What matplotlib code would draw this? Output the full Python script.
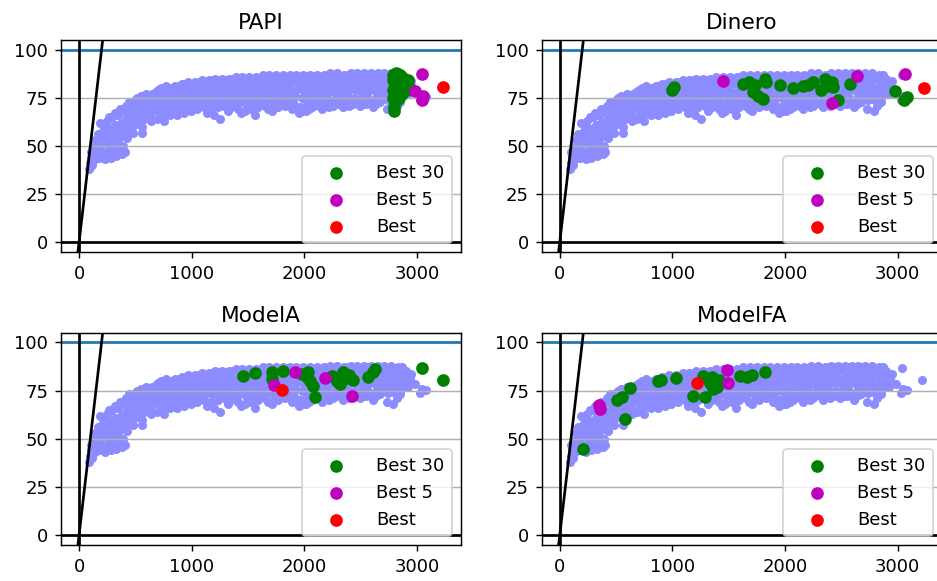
import matplotlib
matplotlib.use("Agg")
import matplotlib.pyplot as plt

# all runs (same background cloud in every panel)
cloud_x = [
    92, 100, 108, 118, 104, 126,
    138, 148, 158, 144, 166, 154, 170,
    180, 190, 200, 210, 220, 186, 204, 214,
    230, 240, 250, 260, 270, 246, 266, 236,
    280, 290, 300, 310, 320, 296, 316, 286,
    330, 340, 350, 360, 370, 346, 366, 336, 356,
    380, 390, 400, 410, 420, 396, 416, 386, 406,
    430, 440, 450, 460, 470, 446, 466, 436,
    480, 490, 500, 510, 520, 496, 516, 486, 506,
    530, 540, 550, 560, 570, 546, 566, 560, 562,
    580, 590, 600, 610, 620, 596, 616,
    630, 645, 660, 670, 680, 650, 675, 640,
    690, 700, 715, 725, 740, 705, 730, 720,
    750, 760, 775, 785, 800, 765, 790, 770,
    810, 820, 835, 845, 860, 825, 850, 840,
    870, 880, 895, 905, 920, 885, 910, 900,
    930, 940, 955, 965, 980, 945, 970, 960,
    990, 1000, 1015, 1025, 1040, 1005, 1030, 1020,
    1050, 1060, 1075, 1085, 1100, 1065, 1090, 1080,
    1110, 1120, 1135, 1145, 1160, 1125, 1150, 1140,
    1170, 1180, 1195, 1205, 1220, 1185, 1210, 1200,
    1230, 1240, 1255, 1265, 1280, 1245, 1270, 1250,
    1290, 1300, 1315, 1325, 1340, 1305, 1330, 1320,
    1350, 1360, 1375, 1385, 1400, 1365, 1390, 1380,
    1410, 1420, 1435, 1445, 1460, 1425, 1450, 1440,
    1470, 1480, 1495, 1505, 1520, 1485, 1510, 1500,
    1530, 1540, 1555, 1565, 1580, 1545, 1570, 1560,
    1590, 1600, 1615, 1625, 1640, 1605, 1630, 1620,
    1650, 1660, 1675, 1685, 1700, 1665, 1690, 1680,
    1710, 1720, 1735, 1745, 1760, 1725, 1750, 1740,
    1770, 1780, 1795, 1805, 1820, 1785, 1810, 1800,
    1830, 1840, 1855, 1865, 1880, 1845, 1870, 1860,
    1890, 1900, 1915, 1925, 1940, 1905, 1930, 1920,
    1950, 1960, 1975, 1985, 2000, 1965, 1990, 1980,
    2010, 2020, 2035, 2045, 2060, 2025, 2050, 2040,
    2070, 2080, 2095, 2105, 2120, 2085, 2110, 2100,
    2130, 2140, 2155, 2165, 2180, 2145, 2170, 2160,
    2190, 2200, 2215, 2225, 2240, 2205, 2230, 2220,
    2250, 2260, 2275, 2285, 2300, 2265, 2290, 2280,
    2310, 2320, 2335, 2345, 2360, 2325, 2350, 2340,
    2370, 2380, 2395, 2405, 2420, 2385, 2410, 2400,
    2430, 2440, 2455, 2465, 2480, 2445, 2470, 2460,
    2490, 2500, 2515, 2525, 2540, 2505, 2530, 2520,
    2550, 2560, 2575, 2585, 2600, 2565, 2590, 2580,
    2610, 2620, 2635, 2645, 2660, 2625, 2650, 2640,
    2670, 2680, 2695, 2705, 2720, 2685, 2710, 2700,
    2730, 2740, 2755, 2765, 2780, 2745, 2770, 2760,
    2790, 2800, 2815, 2825, 2840, 2805, 2830, 2820,
    2850, 2860, 2875, 2885, 2900, 2865, 2890,
    2920, 2950, 3040, 3045, 3030, 3212, 2935, 2980, 3080,
]
cloud_y = [
    38, 41, 44, 40, 47, 49,
    43, 46, 49, 53, 56, 45, 51,
    44, 48, 52, 56, 60, 62, 46, 58,
    43, 47, 51, 55, 59, 63, 65, 53,
    44, 48, 52, 57, 61, 65, 67, 55,
    45, 49, 54, 58, 62, 66, 69, 60, 51,
    46, 50, 55, 60, 64, 68, 71, 62, 47,
    54, 58, 62, 66, 70, 73, 68, 64,
    57, 61, 65, 68, 71, 74, 75, 63, 70,
    62, 66, 69, 72, 75, 76, 73, 57, 60,
    64, 67, 70, 73, 76, 77, 75,
    66, 69, 72, 75, 78, 77, 70, 63,
    64, 68, 71, 74, 77, 79, 80, 66,
    63, 67, 70, 73, 76, 78, 80, 81,
    66, 69, 72, 75, 78, 80, 81, 77,
    66, 70, 73, 76, 79, 81, 82, 68,
    67, 70, 74, 77, 80, 82, 83, 72,
    68, 71, 74, 77, 80, 82, 83, 79,
    69, 72, 75, 78, 81, 83, 84, 76,
    70, 73, 76, 79, 82, 83, 84, 67,
    69, 73, 76, 79, 82, 84, 85, 66,
    70, 74, 77, 80, 83, 84, 85, 64,
    71, 74, 77, 80, 82, 84, 85, 68,
    70, 74, 77, 80, 83, 85, 86, 72,
    69, 73, 76, 79, 82, 84, 86, 67,
    68, 72, 76, 79, 82, 84, 86, 74,
    69, 71, 75, 78, 81, 84, 86, 66,
    70, 73, 76, 79, 82, 85, 87, 72,
    71, 74, 77, 80, 83, 85, 87, 69,
    68, 73, 76, 79, 82, 85, 87, 71,
    70, 74, 77, 80, 83, 85, 87, 72,
    71, 74, 77, 80, 83, 85, 87, 73,
    69, 73, 76, 79, 82, 85, 87, 71,
    67, 70, 75, 79, 82, 85, 87, 68,
    68, 72, 76, 80, 83, 85, 87, 69,
    70, 74, 77, 80, 83, 86, 87, 72,
    71, 75, 78, 81, 84, 86, 87, 69,
    72, 75, 78, 81, 84, 86, 88, 70,
    71, 74, 78, 81, 84, 86, 88, 73,
    72, 75, 79, 82, 84, 86, 87, 70,
    73, 76, 79, 82, 85, 87, 88, 71,
    72, 75, 79, 82, 85, 87, 88, 74,
    71, 75, 78, 81, 84, 86, 88, 72,
    72, 76, 79, 82, 85, 87, 88, 73,
    70, 74, 78, 81, 84, 86, 88, 72,
    73, 76, 79, 82, 85, 87, 88, 75,
    69, 74, 78, 81, 84, 86, 88, 76,
    68, 74, 77, 80, 83, 86, 87, 71,
    73, 76, 79, 82, 85, 87, 80,
    77, 83.5, 86.7, 76, 74, 80.5, 81, 78.5, 75.3,
]

titles = ["PAPI", "Dinero", "ModelA", "ModelFA"]

# best 30 per model
papi_b30_x = [2790, 2810, 2830, 2850, 2870, 2890, 2910, 2785, 2800, 2820, 2840, 2860, 2880,
              2900, 2790, 2805, 2825, 2845, 2865, 2785, 2800, 2820, 2840, 2795, 2798, 2920, 2935]
papi_b30_y = [87, 88, 87.5, 87, 86, 84, 82, 84, 82, 84, 83, 82, 80,
              79, 79, 77, 79, 78, 77, 75, 73, 74, 75, 70, 68.3, 84, 80]
dinero_b30_x = [1000, 1015, 1625, 1684, 1729, 1714, 1759, 1803, 1818, 1833, 1952, 2071, 2160,
                2204, 2249, 2353, 2323, 2368, 2412, 2427, 2472, 2576, 2977, 3051, 3081]
dinero_b30_y = [79, 80.5, 82.3, 83.1, 81.4, 77.9, 76.2, 74.4, 84.9, 83.1, 81.4, 80.2, 80.9,
                81.4, 83.1, 84.9, 78.8, 80.9, 83.1, 80.5, 73.9, 82.3, 78.4, 73.9, 75.3]
modela_b30_x = [1459, 1562, 1710, 1710, 1814, 1976, 2021, 2050, 2080, 2095, 2243, 2287, 2317,
                2346, 2391, 2435, 2568, 2612, 2627, 3041, 3228, 2030, 2400]
modela_b30_y = [82.7, 83.9, 84.4, 81.0, 85.3, 83.6, 82.2, 80.1, 77.5, 71.5, 82.7, 80.1, 78.4,
                84.8, 81.5, 80.4, 82.2, 84.4, 86.2, 86.7, 80.4, 84.5, 83]
modelfa_b30_x = [206, 507, 552, 581, 625, 876, 897, 1032, 1186, 1274, 1289, 1319, 1348, 1363,
                 1380, 1410, 1599, 1658, 1702, 1820, 1395, 1330]
modelfa_b30_y = [44.6, 70.1, 71.8, 60.2, 76.6, 79.8, 80.4, 81.3, 72.3, 82.7, 71.5, 81.0, 82.2,
                 75.8, 78.5, 80.5, 82.7, 81.8, 83.2, 84.8, 77, 79]

# best 5 per model
papi_b5_x = [3041, 2982, 3056, 3041]
papi_b5_y = [87.1, 78.6, 76.2, 73.9]
dinero_b5_x = [1447, 2418, 2635, 3060]
dinero_b5_y = [83.5, 72.2, 86.1, 87.1]
modela_b5_x = [1731, 1917, 2183, 2420]
modela_b5_y = [77.9, 84.4, 81.5, 72.3]
modelfa_b5_x = [345, 360, 1481, 1496]
modelfa_b5_y = [67.6, 65.4, 85.8, 78.7]

# best per model
best_x = [3234, 3235, 1799, 1215]
best_y = [80.5, 80.2, 75.3, 78.7]

b30_x = [papi_b30_x, dinero_b30_x, modela_b30_x, modelfa_b30_x]
b30_y = [papi_b30_y, dinero_b30_y, modela_b30_y, modelfa_b30_y]
b5_x = [papi_b5_x, dinero_b5_x, modela_b5_x, modelfa_b5_x]
b5_y = [papi_b5_y, dinero_b5_y, modela_b5_y, modelfa_b5_y]

fig = plt.figure(figsize=(937 / 130, 581 / 130), dpi=130)
W, H = 937.0, 581.0
positions = [
    [61 / W, 1 - 252 / H, 400 / W, 212 / H],
    [541.7 / W, 1 - 252 / H, 400 / W, 212 / H],
    [61 / W, 1 - 545 / H, 400 / W, 212.3 / H],
    [541.7 / W, 1 - 545 / H, 400 / W, 212.3 / H],
]

n = min(len(cloud_x), len(cloud_y))
for i in range(4):
    ax = fig.add_axes(positions[i])
    ax.scatter(cloud_x[:n], cloud_y[:n], s=16, color="#8c8cff", zorder=1)
    ax.axhline(100, color="C0")
    ax.axhline(0, color="k")
    ax.axvline(0, color="k")
    ax.axline((0, 0), slope=0.5, color="k", lw=1.5)
    ax.scatter(b30_x[i], b30_y[i], s=36, color="g", label="Best 30", zorder=2.5)
    ax.scatter(b5_x[i], b5_y[i], s=36, color="m", label="Best 5", zorder=2.6)
    ax.scatter([best_x[i]], [best_y[i]], s=36, color="r", label="Best", zorder=2.7)
    ax.set_xlim(-160, 3390)
    ax.set_ylim(-5, 105)
    ax.set_xticks([0, 1000, 2000, 3000])
    ax.set_yticks([0, 25, 50, 75, 100])
    ax.grid(axis="y")
    ax.set_title(titles[i])
    ax.legend(loc="lower right", handlelength=2.9)

fig.savefig("out.png", dpi=130)
